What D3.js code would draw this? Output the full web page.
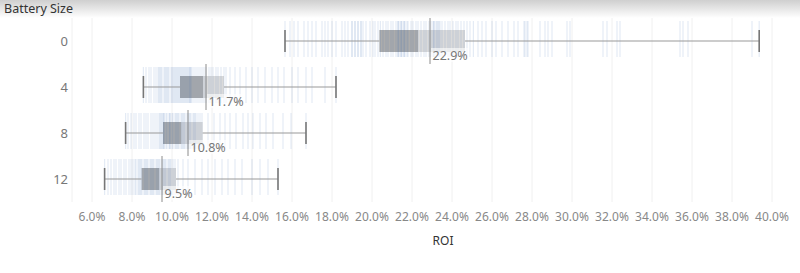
<!DOCTYPE html>
<html>
<head>
<meta charset="utf-8">
<script src="https://cdn.jsdelivr.net/npm/d3@7"></script>
<style>
  body { margin: 0; background: #fff; font-family: "Noto Sans", Lato, sans-serif; }
  svg { display: block; }
</style>
</head>
<body>
<svg id="chart" width="800" height="273"></svg>
<script>
// Battery size categories (rows)
const batterySizes = ["0", "4", "8", "12"];

// Box plot summaries (ROI in %)
const whiskerLow  = [15.65, 8.57, 7.68, 6.63];
const quartile1   = [20.37, 10.40, 9.55, 8.48];
const medians     = [22.30, 11.57, 10.48, 9.35];
const quartile3   = [24.65, 12.60, 11.53, 10.20];
const whiskerHigh = [39.36, 18.20, 16.70, 15.30];
const means       = [22.9, 11.7, 10.8, 9.5];

// Individual ROI values (barcode ticks), one list per battery size
const roi0 = [15.65, 15.9, 16.1, 16.3, 16.6, 16.8, 17.0, 17.2, 17.5, 17.65, 17.8, 18.0, 18.2, 18.5, 18.65, 18.8,
  19.0, 19.0, 19.15, 19.15, 19.3, 19.3, 19.45, 19.45, 19.55, 19.7, 19.9, 20.05,
  20.15, 20.3, 20.42, 20.55, 20.7, 20.8, 20.95, 21.05, 21.2, 21.3, 21.35, 21.45, 21.5, 21.6, 21.65, 21.75,
  21.3, 21.45, 21.6, 21.8, 21.95, 22.05, 22.2, 22.3, 22.45, 22.6, 22.7, 22.85, 22.95, 23.05, 23.1, 23.2,
  23.25, 23.35, 23.4, 23.5, 23.1, 23.3, 23.65, 23.8, 23.9, 24.05, 24.2, 24.3, 24.45, 24.6, 24.75,
  24.9, 25.07, 25.3, 25.5, 25.7, 26.0, 26.2, 26.5, 26.8, 27.1, 27.3, 27.6, 27.65, 27.75, 27.8,
  28.4, 28.65, 28.8, 29.0, 29.75, 29.9, 31.55, 31.75, 32.25, 32.4, 35.4, 35.55, 35.8, 39.0, 39.36];
const roi4 = [8.57, 8.7, 8.85, 8.95, 9.1, 9.2, 9.3, 9.35, 9.45, 9.5, 9.6, 9.65, 9.75, 9.8, 9.85, 9.95,
  10.0, 10.05, 10.15, 10.2, 10.25, 10.35, 10.4, 10.45, 10.5, 10.55, 10.6, 10.7, 10.75, 10.8, 10.85, 10.9,
  10.95, 11.0, 9.4, 9.7, 10.1, 10.3, 10.65, 10.9, 11.1, 11.2, 11.3, 11.4, 11.5, 11.6, 11.7, 11.85, 11.95,
  12.05, 12.2, 12.3, 12.45, 12.6, 12.7, 12.9, 13.15, 13.4, 13.7, 14.0, 14.3, 14.65, 15.0, 15.3, 15.6,
  16.0, 16.3, 16.7, 17.0, 17.65, 18.2];
const roi8 = [7.68, 7.8, 7.95, 8.1, 8.2, 8.35, 8.45, 8.6, 8.7, 8.8, 8.95, 9.05, 9.15, 9.25, 9.35, 9.4,
  9.45, 9.5, 9.55, 9.6, 9.7, 9.75, 9.85, 9.9, 10.0, 10.05, 10.15, 10.2, 10.3, 10.35, 10.45, 10.5, 10.6,
  10.65, 10.75, 10.8, 10.9, 10.95, 11.05, 11.1, 11.2, 11.3, 11.4, 9.6, 9.9, 10.25, 10.55, 10.85, 11.15,
  11.5, 11.8, 12.1, 12.4, 12.65, 12.9, 13.2, 13.55, 13.8, 14.05, 14.4, 14.7, 15.05, 15.55, 15.95, 16.7];
const roi12 = [6.63, 6.8, 6.95, 7.1, 7.2, 7.35, 7.45, 7.6, 7.7, 7.85, 7.95, 8.05, 8.15, 8.2, 8.3, 8.35,
  8.45, 8.5, 8.6, 8.65, 8.75, 8.8, 8.9, 8.95, 9.05, 9.1, 9.2, 9.25, 9.35, 9.4, 9.5, 9.55, 9.65, 9.7,
  9.8, 9.85, 9.95, 10.05, 10.15, 8.4, 8.7, 9.0, 9.3, 9.6, 9.9, 10.3, 10.55, 10.8, 11.15, 11.5, 11.8,
  12.15, 12.5, 12.8, 13.15, 13.5, 14.0, 14.4, 14.8, 15.3];
const roiValues = [roi0, roi4, roi8, roi12];

// Axis ticks (ROI %)
const xTicks = [6, 8, 10, 12, 14, 16, 18, 20, 22, 24, 26, 28, 30, 32, 34, 36, 38, 40];

const svg = d3.select("#chart");
const plot = { left: 72, right: 792, top: 18, bottom: 202 };

// Scales
const x = d3.scaleLinear().domain([5, 41]).range([plot.left, plot.right]);
const y = d3.scaleBand().domain(batterySizes).range([plot.top, plot.bottom]);
const bw = y.bandwidth();

// Header band with gradient
const defs = svg.append("defs");
const grad = defs.append("linearGradient").attr("id", "hdr").attr("x1", 0).attr("y1", 0).attr("x2", 0).attr("y2", 1);
grad.append("stop").attr("offset", "0%").attr("stop-color", "#cfcfcf");
grad.append("stop").attr("offset", "100%").attr("stop-color", "#ffffff");
svg.append("rect").attr("x", 0).attr("y", 0).attr("width", 800).attr("height", 18).attr("fill", "url(#hdr)");
svg.append("text")
  .attr("x", 4).attr("y", 13)
  .attr("font-size", 12.5)
  .attr("fill", "#333")
  .text("Battery Size");

// Vertical gridlines
svg.append("g").selectAll("line")
  .data(xTicks)
  .enter().append("line")
  .attr("x1", d => x(d)).attr("x2", d => x(d))
  .attr("y1", plot.top).attr("y2", plot.bottom)
  .attr("stroke", "#f0f0f0");
svg.append("line")
  .attr("x1", plot.left).attr("x2", plot.left)
  .attr("y1", plot.top).attr("y2", plot.bottom)
  .attr("stroke", "#f0f0f0");

// Row labels
svg.append("g").selectAll("text")
  .data(batterySizes)
  .enter().append("text")
  .attr("x", 68)
  .attr("y", d => y(d) + bw / 2 + 4.5)
  .attr("text-anchor", "end")
  .attr("font-size", 13)
  .attr("fill", "#777")
  .text(d => d);

// One group per row
const rows = svg.append("g").selectAll("g")
  .data(batterySizes.map((b, i) => ({ b, i })))
  .enter().append("g")
  .attr("transform", d => "translate(0," + (y(d.b) + bw / 2) + ")");

// Boxes: lower (dark) and upper (light) halves
rows.append("rect")
  .attr("x", d => x(quartile1[d.i]))
  .attr("width", d => x(medians[d.i]) - x(quartile1[d.i]))
  .attr("y", -11).attr("height", 22)
  .attr("fill", "#acacac");
rows.append("rect")
  .attr("x", d => x(medians[d.i]))
  .attr("width", d => x(quartile3[d.i]) - x(medians[d.i]))
  .attr("y", -11).attr("height", 22)
  .attr("fill", "#dadada");

// Barcode ticks for each data point
rows.append("g").selectAll("line")
  .data(d => roiValues[d.i])
  .enter().append("line")
  .attr("x1", v => x(v)).attr("x2", v => x(v))
  .attr("y1", -20).attr("y2", 16)
  .attr("stroke", "#3f6fb5")
  .attr("stroke-opacity", 0.14)
  .attr("stroke-width", 1.2);

// Whiskers
rows.append("line")
  .attr("x1", d => x(whiskerLow[d.i])).attr("x2", d => x(quartile1[d.i]))
  .attr("y1", 0).attr("y2", 0)
  .attr("stroke", "#999");
rows.append("line")
  .attr("x1", d => x(quartile3[d.i])).attr("x2", d => x(whiskerHigh[d.i]))
  .attr("y1", 0).attr("y2", 0)
  .attr("stroke", "#999");
rows.selectAll(".cap")
  .data(d => [whiskerLow[d.i], whiskerHigh[d.i]])
  .enter().append("line")
  .attr("class", "cap")
  .attr("x1", v => x(v)).attr("x2", v => x(v))
  .attr("y1", -11).attr("y2", 11)
  .attr("stroke", "#777")
  .attr("stroke-width", 1.6);

// Mean reference line with label
rows.append("line")
  .attr("x1", d => x(means[d.i])).attr("x2", d => x(means[d.i]))
  .attr("y1", -bw / 2).attr("y2", bw / 2)
  .attr("stroke", "#8c8c8c");
rows.append("rect")
  .attr("x", d => x(means[d.i]) + 1)
  .attr("y", 7).attr("width", d => (means[d.i] >= 10 ? 38 : 30)).attr("height", 14)
  .attr("fill", "#fff").attr("fill-opacity", 0.6);
rows.append("text")
  .attr("x", d => x(means[d.i]) + 2.5)
  .attr("y", 18.5)
  .attr("font-size", 12.5)
  .attr("fill", "#777")
  .text(d => d3.format(".1f")(means[d.i]) + "%");

// X axis tick labels
svg.append("g").selectAll("text")
  .data(xTicks)
  .enter().append("text")
  .attr("x", d => x(d))
  .attr("y", 221)
  .attr("text-anchor", "middle")
  .attr("font-size", 12)
  .attr("fill", "#888")
  .text(d => d.toFixed(1) + "%");

// Axis title
svg.append("text")
  .attr("x", 443).attr("y", 245)
  .attr("text-anchor", "middle")
  .attr("font-size", 12)
  .attr("fill", "#333")
  .text("ROI");
</script>
</body>
</html>
